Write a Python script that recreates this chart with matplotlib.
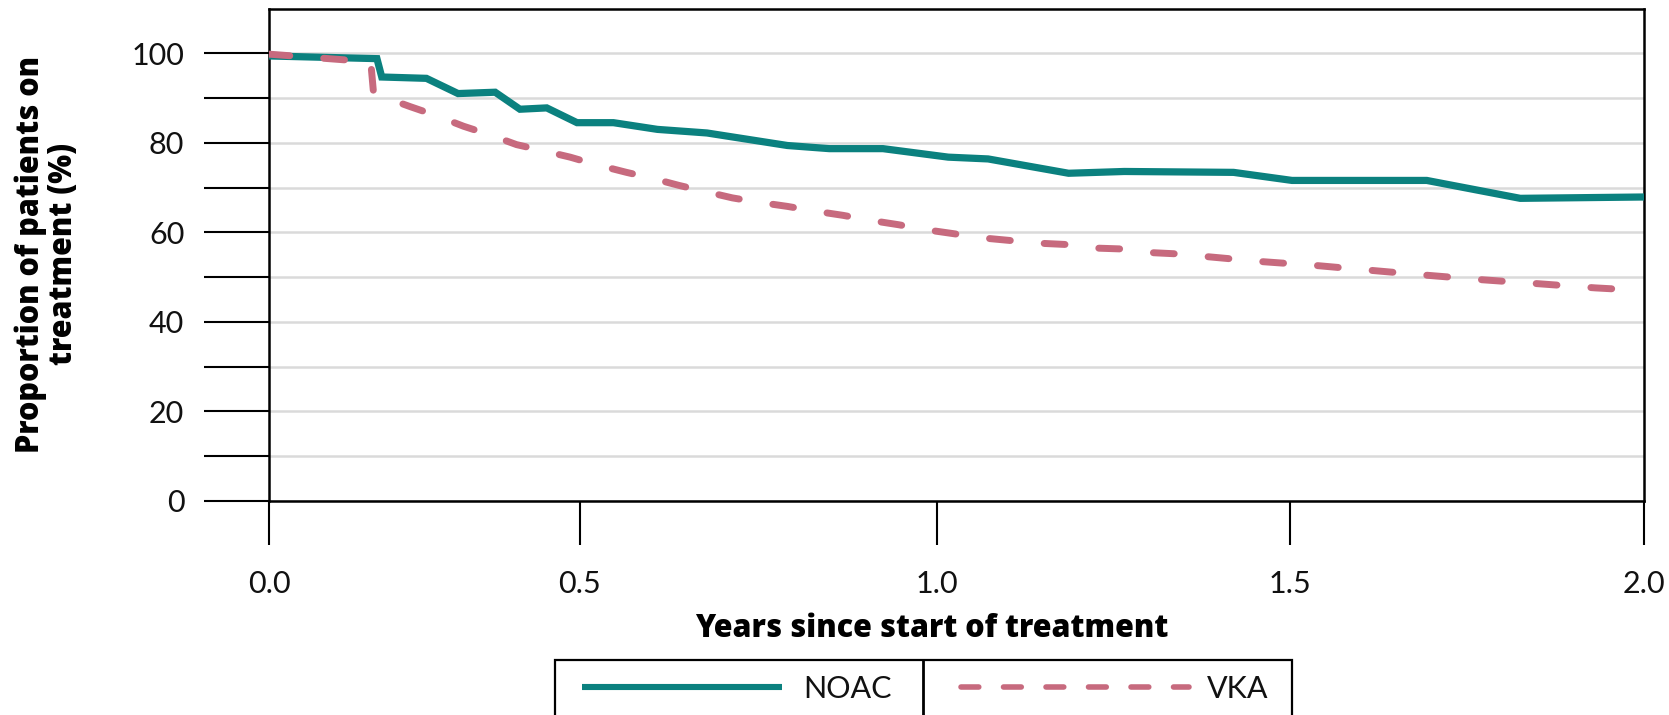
import matplotlib
matplotlib.use("Agg")
import matplotlib.pyplot as plt
from matplotlib.lines import Line2D
from matplotlib.patches import Rectangle

# values (x in years along the drawn axis, y in %)
noac_years = [0.0, 0.157, 0.164, 0.229, 0.275, 0.329, 0.365, 0.404, 0.448, 0.501,
              0.565, 0.637, 0.754, 0.815, 0.893, 0.988, 1.046, 1.163, 1.244, 1.403,
              1.488, 1.684, 1.820, 2.0]
noac_pct = [99.4, 98.8, 94.7, 94.4, 91.0, 91.3, 87.5, 87.8, 84.5, 84.5,
            83.0, 82.2, 79.4, 78.7, 78.7, 76.8, 76.4, 73.2, 73.6, 73.4,
            71.6, 71.6, 67.6, 67.9]

vka_years = [0.0, 0.13, 0.148, 0.152, 0.16, 0.205, 0.241, 0.283, 0.319, 0.36,
             0.394, 0.438, 0.474, 0.52, 0.554, 0.596, 0.632, 0.674, 0.713, 0.754,
             0.796, 0.835, 0.874, 0.916, 0.955, 0.996, 1.035, 1.077, 1.117, 1.158,
             1.2, 1.239, 1.28, 1.32, 1.441, 1.523, 1.604, 1.686, 1.766, 1.849,
             1.929, 2.0]
vka_pct = [99.8, 98.3, 98.1, 91.2, 90.6, 88.1, 86.2, 83.7, 81.9, 79.6,
           78.4, 76.8, 75.2, 73.4, 72.2, 70.5, 69.2, 67.7, 66.7, 65.8,
           64.7, 63.8, 62.7, 61.7, 60.6, 59.7, 58.8, 58.2, 57.6, 57.3,
           56.5, 56.3, 55.5, 55.2, 53.5, 52.6, 51.5, 50.4, 49.4, 48.5,
           47.6, 47.0]

x_ticks = [0.0, 0.452, 0.972, 1.485, 2.0]
x_ticklabels = ["0.0", "0.5", "1.0", "1.5", "2.0"]
y_ticks = list(range(0, 101, 10))
y_ticklabels = ["0", "", "20", "", "40", "", "60", "", "80", "", "100"]

TEAL = "#0b817f"
PINK = "#c76a7e"
W, H = 1669, 715

plt.rcParams["font.family"] = ["Lato", "DejaVu Sans"]
BOLD = dict(family=["Open Sans", "DejaVu Sans"], fontweight="heavy")

fig = plt.figure(figsize=(W / 100, H / 100), dpi=100)
ax = fig.add_axes([269 / W, 1 - 501 / H, (1644 - 269) / W, (501 - 8.5) / H])

ax.plot(noac_years, noac_pct, color=TEAL, lw=5.2, solid_capstyle="butt",
        solid_joinstyle="miter", zorder=3)
ax.plot(vka_years, vka_pct, color=PINK, lw=5.0, linestyle=(0, (3.0, 4.9)),
        dash_capstyle="round", zorder=3)

ax.set_xlim(0, 2.0)
ax.set_ylim(0, 110)
ax.set_xticks(x_ticks)
ax.set_xticklabels(x_ticklabels, fontsize=22, color="#111111")
ax.set_yticks(y_ticks)
ax.set_yticklabels(y_ticklabels, fontsize=22, color="#111111")
ax.tick_params(axis="y", length=47, width=1.5, pad=14, color="black")
ax.tick_params(axis="x", length=32, width=1.5, pad=18, color="black")

ax.yaxis.grid(True, color="#dadada", lw=1.8)
ax.set_axisbelow(True)
for sp in ax.spines.values():
    sp.set_color("black")
    sp.set_linewidth(1.8)

fig.text(47.5 / W, 1 - 254 / H, "Proportion of patients on\ntreatment (%)",
         rotation=90, ha="center", va="center", multialignment="center",
         fontsize=22, linespacing=1.03, **BOLD)
fig.text(932 / W, 1 - 629 / H, "Years since start of treatment",
         ha="center", va="center", fontsize=22, **BOLD)

# legend: two cells in one box
box_top = 1 - 660 / H
fig.add_artist(Rectangle((555 / W, -0.2), (1292 - 555) / W, box_top + 0.2,
                         transform=fig.transFigure, fill=False,
                         edgecolor="black", lw=1.6, clip_on=False))
fig.add_artist(Line2D([923 / W, 923 / W], [-0.2, box_top],
                      transform=fig.transFigure, color="black", lw=2.0))

fs_px = 22 * 100 / 72
h_noac = Line2D([], [], color=TEAL, lw=4.4, solid_capstyle="butt")
h_vka = Line2D([], [], color=PINK, lw=4.0, linestyle=(0, (3.2, 4.45)),
               dash_capstyle="round")
leg_font = {"size": 22}
fig.legend(handles=[h_noac], labels=["NOAC"], loc="center left",
           bbox_to_anchor=(582 / W, 1 - 689 / H), frameon=False,
           borderpad=0, borderaxespad=0, handlelength=200 / fs_px,
           handletextpad=21 / fs_px, prop=leg_font, labelcolor="#111111")
fig.legend(handles=[h_vka], labels=["VKA"], loc="center left",
           bbox_to_anchor=(961 / W, 1 - 689 / H), frameon=False,
           borderpad=0, borderaxespad=0, handlelength=228 / fs_px,
           handletextpad=18 / fs_px, prop=leg_font, labelcolor="#111111")

fig.savefig("out.png", dpi=100)
